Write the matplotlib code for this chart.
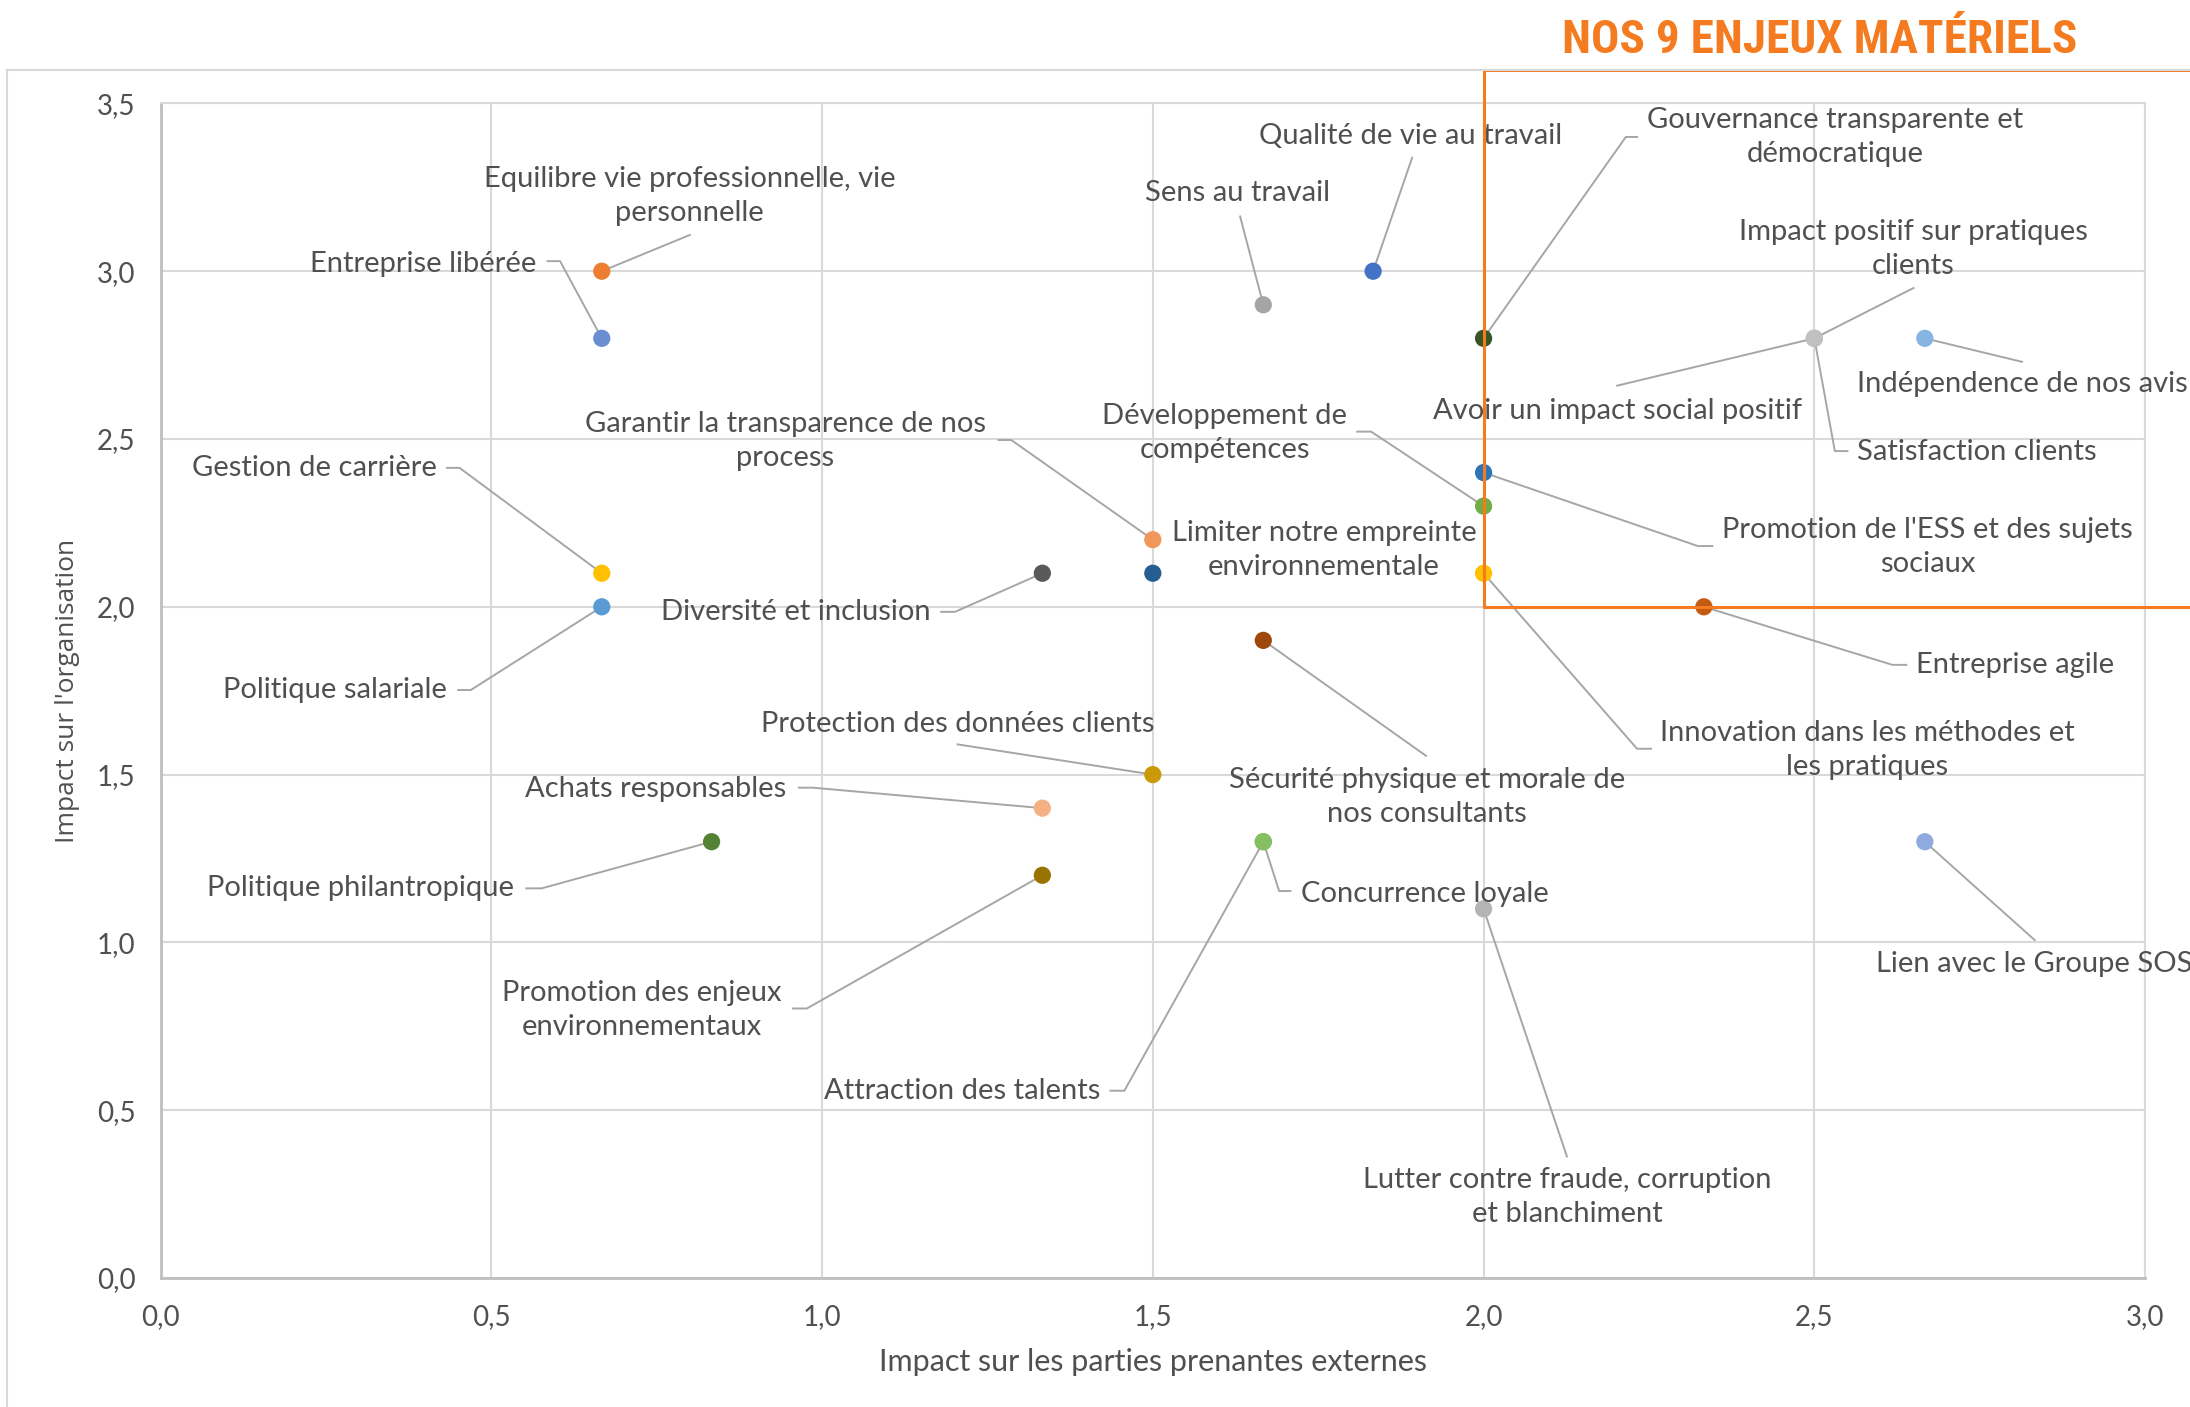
import matplotlib
matplotlib.use("Agg")
import matplotlib.pyplot as plt
from matplotlib import font_manager
from matplotlib.lines import Line2D

# enjeux : impact parties prenantes externes (x) / impact organisation (y)
enjeux = [
    "Entreprise libérée",
    "Equilibre vie professionnelle, vie\npersonnelle",
    "Gestion de carrière",
    "Politique salariale",
    "Garantir la transparence de nos\nprocess",
    "Diversité et inclusion",
    "Protection des données clients",
    "Achats responsables",
    "Politique philantropique",
    "Promotion des enjeux\nenvironnementaux",
    "Attraction des talents",
    "Concurrence loyale",
    "Sens au travail",
    "Qualité de vie au travail",
    "Gouvernance transparente et\ndémocratique",
    "Impact positif sur pratiques\nclients",
    "Avoir un impact social positif",
    "Satisfaction clients",
    "Indépendence de nos avis",
    "Développement de\ncompétences",
    "Limiter notre empreinte\nenvironnementale",
    "Promotion de l'ESS et des sujets\nsociaux",
    "Entreprise agile",
    "Innovation dans les méthodes et\nles pratiques",
    "Sécurité physique et morale de\nnos consultants",
    "Lutter contre fraude, corruption\net blanchiment",
    "Lien avec le Groupe SOS",
]
impact_externe = [0.667, 0.667, 0.667, 0.667, 1.5, 1.333, 1.5, 1.333, 0.833, 1.333,
                  1.667, 1.667, 1.667, 1.833, 2.0, 2.5, 2.5, 2.5, 2.667, 2.0,
                  1.5, 2.0, 2.333, 2.0, 1.667, 2.0, 2.667]
impact_orga = [2.8, 3.0, 2.1, 2.0, 2.2, 2.1, 1.5, 1.4, 1.3, 1.2,
               1.3, 1.3, 2.9, 3.0, 2.8, 2.8, 2.8, 2.8, 2.8, 2.3,
               2.1, 2.4, 2.0, 2.1, 1.9, 1.1, 1.3]
couleurs = ["#6a8ed0", "#ed7d31", "#ffc000", "#5b9bd5", "#f1975a", "#595959", "#c99a06", "#f4b183",
            "#548235", "#997300", "#84bf62", "#84bf62", "#a5a5a5", "#4472c4", "#375623", "#c0c0c0",
            "#c0c0c0", "#c0c0c0", "#86b4e3", "#70ad47", "#255e91", "#2e75b6", "#c55a11", "#ffc000",
            "#9e480e", "#b4b4b4", "#8faadc"]

# placement des étiquettes (centre du texte) et des lignes de repère
label_pos = [(0.397, 3.021), (0.800, 3.225), (0.232, 2.414), (0.264, 1.752), (0.944, 2.493),
             (0.961, 1.985), (1.205, 1.652), (0.749, 1.457), (0.302, 1.161), (0.728, 0.799),
             (1.212, 0.558), (1.911, 1.144), (1.628, 3.234), (1.889, 3.404), (2.531, 3.400),
             (2.650, 3.067), (2.202, 2.584), (2.745, 2.460), (2.814, 2.663), (1.609, 2.518),
             (1.759, 2.168), (2.671, 2.177), (2.804, 1.827), (2.580, 1.573), (1.915, 1.432),
             (2.126, 0.241), (2.833, 0.936)]
leader = [[(0.585, 3.030), (0.604, 3.030)], [(0.800, 3.108)], [(0.433, 2.414), (0.452, 2.414)],
          [(0.450, 1.752), (0.469, 1.752)], [(1.267, 2.497), (1.286, 2.497)],
          [(1.180, 1.985), (1.201, 1.985)], [(1.205, 1.590)], [(0.965, 1.461), (0.986, 1.461)],
          [(0.553, 1.161), (0.576, 1.161)], [(0.956, 0.803), (0.977, 0.803)],
          [(1.436, 0.558), (1.457, 0.558)], [(1.708, 1.153), (1.691, 1.153)], [(1.632, 3.163)],
          [(1.892, 3.338)], [(2.232, 3.400), (2.215, 3.400)], [(2.650, 2.950)], [(2.202, 2.659)],
          [(2.550, 2.464), (2.531, 2.464)], [(2.814, 2.730)], [(1.809, 2.522), (1.830, 2.522)],
          [], [(2.346, 2.181), (2.324, 2.181)], [(2.639, 1.827), (2.618, 1.827)],
          [(2.253, 1.577), (2.232, 1.577)], [(1.913, 1.556)], [(2.126, 0.362)], [(2.833, 1.007)]]

available = {f.name for f in font_manager.fontManager.ttflist}
title_font = "Liberation Sans"
for cand in ["Roboto Condensed", "Liberation Sans Narrow", "Open Sans Condensed"]:
    if cand in available:
        title_font = cand
        break
title_size = 28 if title_font == "Liberation Sans" else 34
txt_font = ["Lato", "DejaVu Sans"]
gris = "#505050"

fig = plt.figure(figsize=(21.9, 14.07), dpi=100)
ax = fig.add_axes([0.0733, 0.0917, 0.9062, 0.8348])
ax.set_xlim(0, 3)
ax.set_ylim(0, 3.5)

xt = [0, 0.5, 1.0, 1.5, 2.0, 2.5, 3.0]
yt = [0, 0.5, 1.0, 1.5, 2.0, 2.5, 3.0, 3.5]
ax.set_xticks(xt)
ax.set_xticklabels([f"{v:.1f}".replace(".", ",") for v in xt], fontsize=20, color=gris, family=txt_font)
ax.set_yticks(yt)
ax.set_yticklabels([f"{v:.1f}".replace(".", ",") for v in yt], fontsize=20, color=gris, family=txt_font)
ax.tick_params(length=0)
ax.tick_params(axis="x", pad=19)
ax.tick_params(axis="y", pad=18)
ax.grid(True, color="#d9d9d9", lw=1.5)
ax.set_axisbelow(True)
for s in ["top", "right"]:
    ax.spines[s].set_color("#d9d9d9")
    ax.spines[s].set_linewidth(1.5)
for s in ["left", "bottom"]:
    ax.spines[s].set_color("#bfbfbf")
    ax.spines[s].set_linewidth(2)

ax.set_xlabel("Impact sur les parties prenantes externes", fontsize=22, color=gris, family=txt_font)
ax.xaxis.set_label_coords(0.5, -0.060)
ax.set_ylabel("Impact sur l'organisation", fontsize=19, color=gris, family=["Open Sans", "DejaVu Sans"])
ax.yaxis.set_label_coords(-0.0406, 0.5)

# lignes de repère
for i in range(len(enjeux)):
    if not leader[i]:
        continue
    pts = leader[i] + [(impact_externe[i], impact_orga[i])]
    ax.plot([p[0] for p in pts], [p[1] for p in pts], color="#a6a6a6", lw=1.4,
            clip_on=False, zorder=3)

ax.scatter(impact_externe, impact_orga, s=130, c=couleurs, edgecolors=couleurs, zorder=4)

for i, nom in enumerate(enjeux):
    ax.text(label_pos[i][0], label_pos[i][1], nom, ha="center", va="center",
            multialignment="center", fontsize=21, color=gris, family=txt_font,
            linespacing=1.38, zorder=5)

# cadre du graphique + zone des enjeux matériels
fig.add_artist(Line2D([0.0032, 0.0032], [0, 0.9502], transform=fig.transFigure, color="#d9d9d9", lw=1.5))
fig.add_artist(Line2D([0.0032, 1.0], [0.9502, 0.9502], transform=fig.transFigure, color="#d9d9d9", lw=1.5))
ax.plot([3.4, 2.0, 2.0, 3.4], [3.6, 3.6, 2.0, 2.0], color="#f47b20", lw=2.2, clip_on=False, zorder=6)

fig.text(1820 / 2190, 1 - 40 / 1407, "NOS 9 ENJEUX MATÉRIELS", ha="center", va="center",
         fontsize=title_size, fontweight="bold", color="#f47b20", family=title_font)

fig.savefig("out.png", dpi=100)
